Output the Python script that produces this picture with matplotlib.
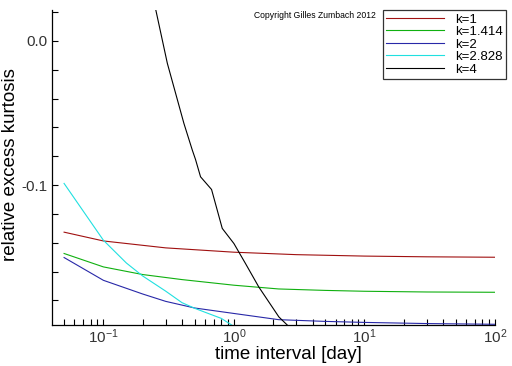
import matplotlib
matplotlib.use("Agg")
import matplotlib.pyplot as plt
from matplotlib.ticker import MultipleLocator, LogLocator, NullFormatter

plt.rcParams["font.family"] = ["Liberation Sans", "DejaVu Sans"]

x_k1 = [0.05, 0.1, 0.3, 1.0, 3.0, 10.0, 30.0, 100.0]
y_k1 = [-0.1326, -0.1387, -0.1435, -0.1465, -0.1482, -0.1492, -0.1497, -0.1500]

x_k1414 = [0.05, 0.1, 0.2, 0.4, 1.0, 2.2, 5.0, 10.0, 30.0, 100.0]
y_k1414 = [-0.1474, -0.1567, -0.1620, -0.1655, -0.1694, -0.1720, -0.1730, -0.1736, -0.1741, -0.1743]

x_k2 = [0.05, 0.1, 0.2, 0.3, 0.5, 1.0, 2.2, 5.0, 10.0, 30.0, 100.0]
y_k2 = [-0.1502, -0.1660, -0.1755, -0.1806, -0.1852, -0.1890, -0.1933, -0.1945, -0.1952, -0.1960, -0.1965]

x_k2828 = [0.05, 0.1, 0.15, 0.2, 0.3, 0.4, 0.5, 0.64, 0.8, 1.0, 1.2]
y_k2828 = [-0.0988, -0.1382, -0.1540, -0.1630, -0.1735, -0.1815, -0.1854, -0.1891, -0.1924, -0.1980, -0.2020]

x_k4 = [0.23, 0.249, 0.309, 0.414, 0.48, 0.508, 0.555, 0.674, 0.814, 1.0, 1.227, 1.55, 2.21, 2.56, 2.8]
y_k4 = [0.035, 0.0238, -0.0155, -0.0572, -0.0757, -0.0822, -0.0942, -0.103, -0.130, -0.1405, -0.1544, -0.1706, -0.1914, -0.197, -0.200]

series = [
    (x_k1, y_k1, "k=1", "#a01010"),
    (x_k1414, y_k1414, "k=1.414", "#10b010"),
    (x_k2, y_k2, "k=2", "#2828a8"),
    (x_k2828, y_k2828, "k=2.828", "#20e0e0"),
    (x_k4, y_k4, "k=4", "black"),
]

fig = plt.figure(figsize=(5.12, 3.66), dpi=100)
ax = fig.add_axes([52 / 512, 1 - 325 / 366, 443 / 512, 315 / 366])

for xs, ys, lab, col in series:
    ax.plot(xs, ys, color=col, lw=0.8, label=lab)

ax.set_xscale("log")
ax.set_xlim(0.0404, 100)
ax.set_ylim(-0.197, 0.0215)

ax.spines["top"].set_visible(False)
ax.spines["right"].set_visible(False)
for s in ("left", "bottom"):
    ax.spines[s].set_linewidth(0.9)

ax.yaxis.set_major_locator(MultipleLocator(0.1))
ax.yaxis.set_minor_locator(MultipleLocator(0.02))
ax.yaxis.set_major_formatter(plt.FuncFormatter(lambda v, p: f"{v:.1f}"))
ax.xaxis.set_major_locator(LogLocator(base=10, numticks=10))
ax.xaxis.set_minor_locator(LogLocator(base=10, subs=range(2, 10), numticks=20))
ax.xaxis.set_minor_formatter(NullFormatter())

ax.tick_params(which="both", direction="in", length=4.5, width=0.8,
               labelsize=11, labelcolor="#333333")
ax.tick_params(axis="x", pad=1.5)

ax.set_xlabel("time interval [day]", fontsize=13.5)
ax.xaxis.set_label_coords(0.533, -0.068)
ax.set_ylabel("relative excess kurtosis", fontsize=13.5)
ax.yaxis.set_label_coords(-0.074, 0.51)

fig.text(254 / 512, 1 - 16 / 366, "Copyright Gilles Zumbach 2012",
         fontsize=6.2, va="center")

leg = ax.legend(loc="upper left", bbox_to_anchor=(383 / 512, 1 - 10 / 366),
                bbox_transform=fig.transFigure, fontsize=9.5, frameon=True,
                fancybox=False, handlelength=4.4, handletextpad=0.8,
                labelspacing=0.02, borderpad=0.25, borderaxespad=0)
leg.get_frame().set_edgecolor("black")
leg.get_frame().set_linewidth(0.9)

fig.savefig("out.png", dpi=100)
